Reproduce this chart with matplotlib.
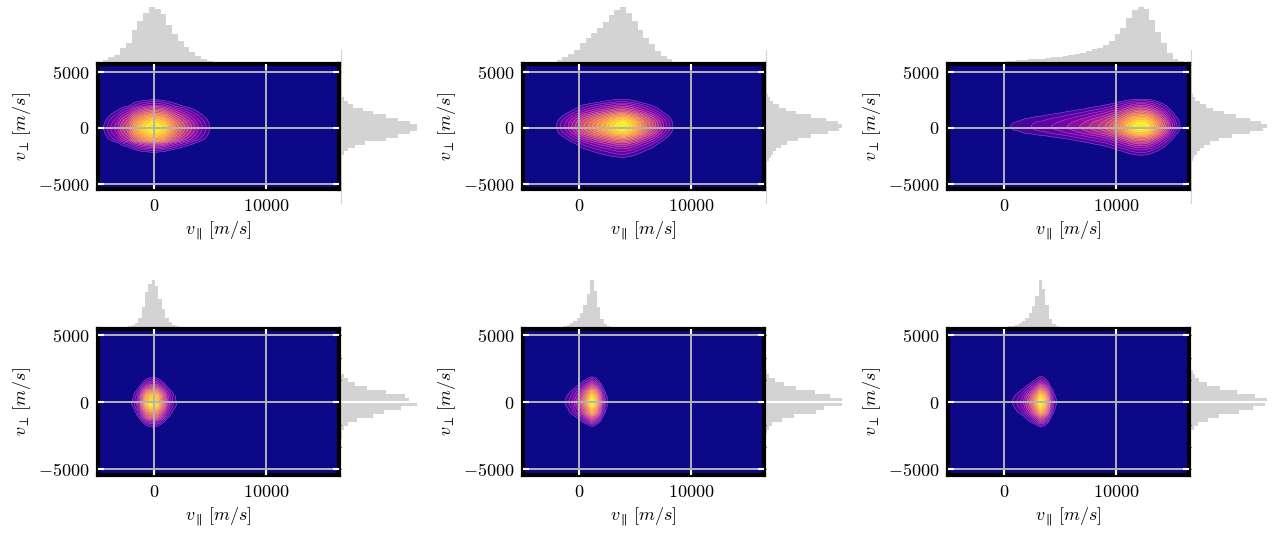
import numpy as np
import matplotlib
matplotlib.use("Agg")
import matplotlib.pyplot as plt

plt.rcParams["font.family"] = "serif"
plt.rcParams["font.serif"] = ["cmr10"]
plt.rcParams["mathtext.fontset"] = "cm"
plt.rcParams["axes.formatter.use_mathtext"] = True

# bin edges of the marginal histograms
par_edges_top = np.linspace(-5100, 16600, 43)     # v_par, upper row
par_edges_bot = np.linspace(-3500, 7900, 39)      # v_par, lower row
perp_edges = np.linspace(-3600, 3600, 25)         # v_perp, all panels

# v_par histograms (normalised to peak)
par_hist_1 = [0.04, 0.07, 0.12, 0.17, 0.28, 0.37, 0.6, 0.76, 0.9, 1.0, 0.97, 0.88,
              0.68, 0.52, 0.4, 0.3, 0.22, 0.15, 0.1, 0.06, 0.04, 0.03, 0.02, 0.018,
              0.015, 0.013, 0.012, 0.011, 0.01, 0.01, 0.009, 0.009, 0.008, 0.008,
              0.007, 0.007, 0.006, 0.006, 0.005, 0.005, 0.004, 0.004]
par_hist_2 = [0.005, 0.008, 0.01, 0.015, 0.02, 0.04, 0.08, 0.12, 0.18, 0.25, 0.37, 0.45,
              0.54, 0.64, 0.73, 0.85, 0.95, 1.0, 0.9, 0.76, 0.6, 0.46, 0.35, 0.24,
              0.15, 0.09, 0.04, 0.02, 0.015, 0.012, 0.01, 0.01, 0.009, 0.008, 0.008,
              0.007, 0.006, 0.006, 0.005, 0.005, 0.004, 0.004]
par_hist_3 = [0.005, 0.005, 0.008, 0.01, 0.012, 0.015, 0.02, 0.025, 0.035, 0.045, 0.055,
              0.065, 0.07, 0.08, 0.085, 0.095, 0.1, 0.11, 0.12, 0.13, 0.145, 0.16, 0.18,
              0.2, 0.23, 0.26, 0.29, 0.34, 0.41, 0.52, 0.64, 0.8, 0.95, 1.0, 0.96, 0.78,
              0.56, 0.37, 0.2, 0.1, 0.05, 0.02]
par_hist_4 = [0.015, 0.02, 0.03, 0.04, 0.05, 0.07, 0.12, 0.22, 0.45, 0.75, 0.93, 1.0,
              0.88, 0.62, 0.4, 0.22, 0.13, 0.08, 0.06, 0.04, 0.03, 0.025, 0.02, 0.02,
              0.015, 0.015, 0.012, 0.012, 0.01, 0.01, 0.01, 0.01, 0.01, 0.01, 0.01, 0.01,
              0.008, 0.008]
par_hist_5 = [0.015, 0.018, 0.02, 0.025, 0.03, 0.035, 0.045, 0.06, 0.08, 0.11, 0.16, 0.22,
              0.33, 0.5, 0.72, 1.0, 0.78, 0.45, 0.2, 0.09, 0.05, 0.035, 0.025, 0.02,
              0.015, 0.012, 0.012, 0.01, 0.01, 0.01, 0.01, 0.01, 0.01, 0.01, 0.008, 0.008,
              0.008, 0.008]
par_hist_6 = [0, 0, 0, 0, 0, 0.003, 0.005, 0.008, 0.012, 0.015, 0.02, 0.025, 0.035, 0.05,
              0.065, 0.085, 0.11, 0.15, 0.22, 0.32, 0.48, 0.68, 1.0, 0.82, 0.5, 0.2, 0.09,
              0.05, 0.03, 0.02, 0.015, 0.012, 0.01, 0.01, 0.01, 0.008, 0.008, 0.005]

# v_perp histograms, bottom to top
perp_hist_1 = [0, 0.005, 0.01, 0.025, 0.05, 0.1, 0.19, 0.32, 0.6, 0.76, 0.91, 1.0,
               1.0, 0.91, 0.76, 0.6, 0.43, 0.29, 0.16, 0.1, 0.05, 0.02, 0.01, 0]
perp_hist_2 = [0.005, 0.01, 0.04, 0.07, 0.1, 0.14, 0.2, 0.28, 0.42, 0.6, 0.82, 0.97,
               1.0, 0.95, 0.8, 0.6, 0.4, 0.27, 0.18, 0.1, 0.06, 0.03, 0.015, 0.005]
perp_hist_3 = [0.002, 0.01, 0.03, 0.05, 0.08, 0.12, 0.18, 0.26, 0.38, 0.55, 0.78, 0.95,
               1.0, 0.93, 0.78, 0.6, 0.44, 0.3, 0.2, 0.12, 0.06, 0.03, 0.01, 0.002]
perp_hist_4 = [0, 0.005, 0.005, 0.02, 0.02, 0.04, 0.1, 0.21, 0.42, 0.57, 0.79, 1.0,
               0.9, 0.85, 0.6, 0.35, 0.19, 0.1, 0.04, 0.01, 0.005, 0, 0, 0]
perp_hist_5 = [0, 0.005, 0.005, 0.01, 0.02, 0.04, 0.09, 0.22, 0.38, 0.66, 0.77, 1.0,
               1.0, 0.85, 0.65, 0.4, 0.24, 0.12, 0.05, 0.02, 0.01, 0, 0, 0]
perp_hist_6 = [0, 0, 0, 0.005, 0.01, 0.04, 0.1, 0.23, 0.37, 0.64, 0.82, 0.98,
               1.0, 0.85, 0.61, 0.39, 0.21, 0.11, 0.06, 0.03, 0.01, 0, 0, 0]

par_hists = [par_hist_1, par_hist_2, par_hist_3, par_hist_4, par_hist_5, par_hist_6]
perp_hists = [perp_hist_1, perp_hist_2, perp_hist_3, perp_hist_4, perp_hist_5, perp_hist_6]

xlims = (-5000, 16500)
ylims_rows = [(-5490, 5660), (-5440, 5480)]
xticks = [0, 10000]
yticks = [-5000, 0, 5000]

W, H = 1280, 534
fig = plt.figure(figsize=(W / 100, H / 100), dpi=100)


def box(x0, y0, x1, y1):
    # pixel box (top-left origin) -> figure fraction
    return [x0 / W, 1 - y1 / H, (x1 - x0) / W, (y1 - y0) / H]


# pixel layout per row: main axes, top marginal, right marginal
main_box = [(98, 64.3, 338.8, 189.2), (98, 328.7, 338.8, 475.3)]
top_box = [(98, 4, 338.8, 64.3), (98, 278, 338.8, 328.7)]
right_box = [(340.5, 50, 420.5, 203), (340.5, 328.7, 420.5, 475.3)]

cmap = plt.get_cmap("plasma")
bg = cmap(0.0)
# contour levels, spaced quadratically between threshold and peak
levels = np.linspace(np.sqrt(0.06), 1.0001, 17) ** 2
band_colors = [cmap(v) for v in np.linspace(0.12, 0.97, len(levels) - 1)]

for i in range(6):
    row, col = divmod(i, 3)
    dx = 425 * col
    par = np.array(par_hists[i])
    perp = np.array(perp_hists[i])
    edges_par = par_edges_top if row == 0 else par_edges_bot
    xc = 0.5 * (edges_par[1:] + edges_par[:-1])
    yc = 0.5 * (perp_edges[1:] + perp_edges[:-1])
    ylims = ylims_rows[row]

    # top marginal
    mx0, my0, mx1, my1 = top_box[row]
    axt = fig.add_axes(box(mx0 + dx, my0, mx1 + dx, my1))
    axt.stairs(par, edges_par, fill=True, color="lightgray", linewidth=0)
    axt.set_xlim(xlims)
    axt.set_ylim(0, 1.05)
    axt.axis("off")

    # right marginal, y scale aligned with the main axes
    bx0, by0, bx1, by1 = main_box[row]
    rx0, ry0, rx1, ry1 = right_box[row]
    upp = (ylims[1] - ylims[0]) / (by1 - by0)
    r_ylim = (ylims[0] - (ry1 - by1) * upp, ylims[1] + (by0 - ry0) * upp)
    axr = fig.add_axes(box(rx0 + dx, ry0, rx1 + dx, ry1))
    axr.stairs(perp, perp_edges, fill=True, color="lightgray", linewidth=0,
               orientation="horizontal")
    axr.set_xlim(0, 1.05)
    axr.set_ylim(r_ylim)
    for s in ["top", "right", "bottom"]:
        axr.spines[s].set_visible(False)
    axr.set_xticks([])
    if row == 0:
        axr.spines["left"].set_color("lightgray")
        axr.spines["left"].set_linewidth(0.8)
        axr.set_yticks([])
    else:
        axr.spines["left"].set_visible(False)
        axr.axhline(0, color="white", linewidth=1.5)
        axr.set_yticks(np.linspace(-5000, 5000, 7))
        axr.tick_params(axis="y", direction="out", length=2.5, width=0.8,
                        color="black", labelleft=False)

    # main joint density
    ax = fig.add_axes(box(bx0 + dx, by0, bx1 + dx, by1))
    ax.set_facecolor(bg)
    Z = np.outer(perp, par)
    ax.contourf(xc, yc, Z, levels=levels, colors=band_colors, zorder=1)
    ax.contour(xc, yc, Z, levels=levels, colors="white", linewidths=0.35,
               alpha=0.35, zorder=1.5)
    ax.set_xlim(xlims)
    ax.set_ylim(ylims)
    ax.set_xticks(xticks)
    ax.set_yticks(yticks)
    ax.grid(True, color="#b4b4b4", linewidth=1.4)
    ax.set_axisbelow(False)
    for s in ax.spines.values():
        s.set_linewidth(3)
        s.set_color("black")
    ax.tick_params(direction="in", color="white", length=4, width=1.5,
                   top=True, right=True, labelsize=13, pad=6)
    ax.set_xlabel(r"$v_{\parallel}\,[m/s]$", fontsize=13)
    ax.set_ylabel(r"$v_{\perp}\,[m/s]$", fontsize=13)

fig.savefig("out.png", dpi=100)
